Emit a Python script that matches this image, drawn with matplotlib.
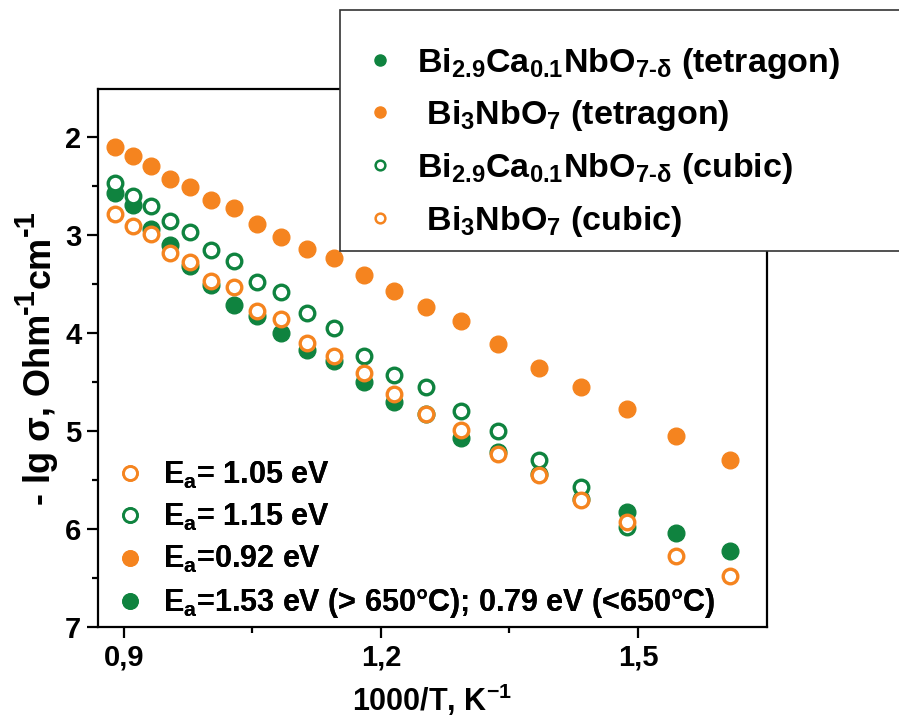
import matplotlib
matplotlib.use('Agg')
import matplotlib.pyplot as plt
from matplotlib.lines import Line2D
from matplotlib.patches import Rectangle
from matplotlib.ticker import FixedLocator, FuncFormatter

plt.rcParams['font.family'] = ['Liberation Sans', 'DejaVu Sans']
plt.rcParams['font.weight'] = 'bold'
plt.rcParams['mathtext.fontset'] = 'custom'
plt.rcParams['mathtext.rm'] = 'Liberation Sans:bold'
plt.rcParams['mathtext.it'] = 'Liberation Sans:bold'
plt.rcParams['mathtext.bf'] = 'Liberation Sans:bold'
plt.rcParams['mathtext.sf'] = 'Liberation Sans:bold'

# ---- data ----
inv_T = [0.890, 0.910, 0.932, 0.954, 0.977, 1.002, 1.028, 1.055, 1.083, 1.114,
         1.145, 1.180, 1.215, 1.253, 1.294, 1.337, 1.384, 1.433, 1.487, 1.544, 1.607]
bi3_tet = [2.10, 2.19, 2.30, 2.43, 2.51, 2.64, 2.72, 2.89, 3.02, 3.14,
           3.23, 3.41, 3.57, 3.73, 3.88, 4.11, 4.36, 4.55, 4.78, 5.05, 5.30]
ca_tet = [2.575, 2.69, 2.94, 3.10, 3.32, 3.51, 3.71, 3.83, 4.00, 4.17,
          4.29, 4.50, 4.70, 4.83, 5.07, 5.21, 5.44, 5.69, 5.83, 6.04, 6.22]
ca_cub_x = [0.890, 0.910, 0.932, 0.954, 0.977, 1.002, 1.028, 1.055, 1.083, 1.114,
            1.145, 1.180, 1.215, 1.253, 1.294, 1.337, 1.384, 1.433, 1.487]
ca_cub = [2.47, 2.60, 2.70, 2.86, 2.97, 3.15, 3.27, 3.48, 3.58, 3.80,
          3.95, 4.23, 4.43, 4.55, 4.80, 5.00, 5.30, 5.57, 5.98]
bi3_cub = [2.79, 2.91, 2.99, 3.18, 3.28, 3.47, 3.53, 3.78, 3.86, 4.10,
           4.23, 4.41, 4.62, 4.83, 4.99, 5.23, 5.45, 5.70, 5.93, 6.28, 6.48]

x_ticks = [0.9, 1.2, 1.5]
y_ticks = [2, 3, 4, 5, 6, 7]

series_labels = [r'Bi$_{\mathrm{2.9}}$Ca$_{\mathrm{0.1}}$NbO$_{\mathrm{7\text{-}}\delta}$ (tetragon)',
                 r' Bi$_{\mathrm{3}}$NbO$_{\mathrm{7}}$ (tetragon)',
                 r'Bi$_{\mathrm{2.9}}$Ca$_{\mathrm{0.1}}$NbO$_{\mathrm{7\text{-}}\delta}$ (cubic)',
                 r' Bi$_{\mathrm{3}}$NbO$_{\mathrm{7}}$ (cubic)']
ea_labels = [r'E$_{\mathrm{a}}$= 1.05 eV',
             r'E$_{\mathrm{a}}$= 1.15 eV',
             r'E$_{\mathrm{a}}$=0.92 eV',
             r'E$_{\mathrm{a}}$=1.53 eV (> 650°C); 0.79 eV (<650°C)']

GREEN = '#0F833F'
ORANGE = '#F5841F'

fig = plt.figure(figsize=(8.99, 7.16), dpi=100)
ax = fig.add_axes([98/899, 1-627/716, (767-98)/899, (627-89)/716])

ms = 12
ax.plot(inv_T, ca_tet, 'o', color=GREEN, ms=ms, mec=GREEN, zorder=2)
ax.plot(inv_T, bi3_tet, 'o', color=ORANGE, ms=ms, mec=ORANGE, zorder=3)
ax.plot(ca_cub_x, ca_cub, 'o', mfc='white', mec=GREEN, mew=2.4, ms=ms-1.5, zorder=4)
ax.plot(inv_T, bi3_cub, 'o', mfc='white', mec=ORANGE, mew=2.4, ms=ms-1.5, zorder=5)

ax.set_xlim(0.8697, 1.6506)
ax.set_ylim(7, 1.51)
ax.xaxis.set_major_locator(FixedLocator(x_ticks))
ax.xaxis.set_minor_locator(FixedLocator([1.05, 1.35]))
ax.yaxis.set_major_locator(FixedLocator(y_ticks))
ax.yaxis.set_minor_locator(FixedLocator([2.5, 3.5, 4.5, 5.5, 6.5]))
ax.xaxis.set_major_formatter(FuncFormatter(lambda v, p: f'{v:.1f}'.replace('.', ',')))
ax.yaxis.set_major_formatter(FuncFormatter(lambda v, p: f'{v:.0f}'))
ax.tick_params(which='major', direction='out', length=8, width=1.6, labelsize=21, pad=4)
ax.tick_params(which='minor', direction='out', length=4.5, width=1.6)
for sp in ax.spines.values():
    sp.set_linewidth(1.6)

ax.set_xlabel(r'1000/T, K$^{\mathrm{-1}}$', fontsize=22, fontweight='bold', labelpad=7)

# y label built from pieces so that the superscripts keep the reference's large size
t1 = fig.text(58/899, 1-505/716, '- lg σ, Ohm', rotation=90, ha='right', va='bottom',
              fontsize=26, fontweight='bold')
s1 = ax.annotate('-1', xy=(0, 1), xycoords=t1, xytext=(-8, 0), textcoords='offset points',
                 rotation=90, ha='left', va='bottom', fontsize=21, fontweight='bold',
                 annotation_clip=False)
c1 = ax.annotate('cm', xy=(1, 1), xycoords=(t1, s1), xytext=(0, 0), textcoords='offset points',
                 rotation=90, ha='right', va='bottom', fontsize=26, fontweight='bold',
                 annotation_clip=False)
s2 = ax.annotate('-1', xy=(0, 1), xycoords=(t1, c1), xytext=(-8, 0), textcoords='offset points',
                 rotation=90, ha='left', va='bottom', fontsize=21, fontweight='bold',
                 annotation_clip=False)

# bottom-left legend (activation energies)
ea_handles = [
    Line2D([], [], ls='none', marker='o', mfc='white', mec=ORANGE, mew=2.0, ms=10),
    Line2D([], [], ls='none', marker='o', mfc='white', mec=GREEN, mew=2.0, ms=10),
    Line2D([], [], ls='none', marker='o', color=ORANGE, ms=11),
    Line2D([], [], ls='none', marker='o', color=GREEN, ms=11),
]
leg1 = ax.legend(ea_handles, ea_labels, loc='lower left', bbox_to_anchor=(-0.012, -0.033),
                 frameon=False, fontsize=22, handlelength=1.0, handletextpad=0.6,
                 labelspacing=0.36, borderaxespad=0.4)
ax.add_artist(leg1)

# top legend box (partly outside the figure)
box = Rectangle((340/899, 1-251/716), 0.65, (251-10)/716, transform=fig.transFigure,
                facecolor='white', edgecolor='#333333', lw=1.2, zorder=3)
fig.add_artist(box)
s_handles = [
    Line2D([], [], ls='none', marker='o', color=GREEN, ms=8),
    Line2D([], [], ls='none', marker='o', color=ORANGE, ms=8),
    Line2D([], [], ls='none', marker='o', mfc='white', mec=GREEN, mew=1.8, ms=7),
    Line2D([], [], ls='none', marker='o', mfc='white', mec=ORANGE, mew=1.8, ms=7),
]
leg2 = fig.legend(s_handles, series_labels, loc='upper left',
                  bbox_to_anchor=(332/899, 1-15/716), frameon=False, fontsize=24.5,
                  handlelength=1.0, handletextpad=0.6, labelspacing=0.52)
leg2.set_zorder(4)

fig.savefig('out.png', dpi=100)
